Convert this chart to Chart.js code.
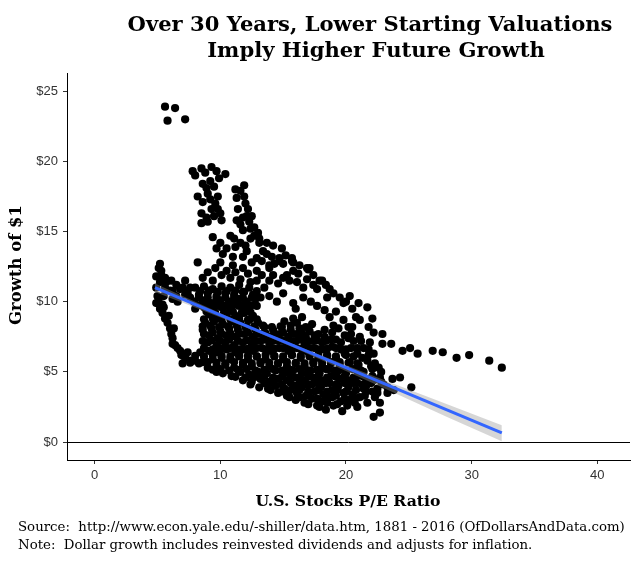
<!DOCTYPE html>
<html lang="en">
<head>
<meta charset="UTF-8">
<title>Over 30 Years, Lower Starting Valuations Imply Higher Future Growth</title>
<script src="https://cdn.jsdelivr.net/npm/chart.js"></script>
<style>
  body { margin: 0; background: #fff; }
  canvas { display: block; }
</style>
</head>
<body>
<canvas id="myChart" width="644" height="567"></canvas>
<script>
// [P/E ratio, growth of $1 over the next 30 years]
const outliers = [[5.6,23.9],[6.4,23.8],[5.8,22.9],[7.2,23.0]];

const upperArm = [
  [7.8,19.3],[8.5,19.5],[9.3,19.6],[10.4,19.1],[9.2,18.6],[8.9,18.1],[9.5,18.2],[8.2,17.5],[9.0,17.7],
  [9.8,17.5],[9.6,17.0],[9.3,16.6],[9.8,16.6],[8.5,16.3],[8.9,16.0],[8.5,15.6],[10.0,16.3],[10.1,15.8],
  [11.2,18.0],[11.6,17.9],[11.3,17.4],[12.0,17.0],[11.4,16.6],[12.1,16.1],[11.8,16.0],[11.3,15.8],
  [12.3,15.7],[12.4,15.2],[11.8,15.1],[13.0,14.9],[10.8,14.7],[11.1,14.5],[12.4,14.5],[11.6,14.2],
  [13.1,14.2],[14.2,14.0],[14.9,13.8],[9.7,13.8],[10.5,13.8],[12.1,13.6],[12.9,13.1],[13.7,13.4],
  [14.7,13.1],[15.7,13.1],[8.2,12.8],[10.0,12.8],[11.0,12.6],[11.8,12.4],[12.9,12.2],[13.9,12.6],
  [15.0,12.7],[15.8,12.8],[16.9,12.4],[17.4,11.9],[14.2,11.9],[15.3,11.9],[8.6,11.7],[9.4,11.5],
  [10.8,11.7],[11.6,11.6],[12.4,11.4],[12.5,16.1],[12.7,15.3],[13.1,14.5],[13.7,14.2],[13.4,13.6],
  [14.7,12.9],[15.7,12.9],[17.0,12.3],[15.8,12.2],[13.9,12.4],[17.9,11.5],[18.7,10.9],[17.7,10.9],
  [16.6,11.0],[15.5,11.5],[15.0,11.7],[13.9,11.5],[12.9,11.5],[19.5,10.3],[20.3,10.4],[21.7,9.6],
  [18.5,10.3],[16.6,10.3],[15.0,10.6],[13.9,10.4],[15.8,9.9],[17.7,9.7],[17.1,12.4],[18.1,11.5],
  [8.0,19.0],[8.8,19.2],[9.7,19.3],[9.9,18.8],[8.6,18.4],[8.6,17.1],[9.2,17.3],[9.0,15.7],[9.5,16.1],
  [11.9,17.5],[12.2,16.6],[11.6,15.5],[12.7,14.7],[12.0,14.0],[11.2,13.9],[10.2,13.4],[11.0,13.2],
  [11.8,13.2],[12.5,12.8],[13.3,12.9],[14.1,13.2],[14.3,12.7],[15.2,13.3],[16.3,12.6],[16.2,12.0],
  [16.9,11.6],[14.6,11.3],[13.3,11.9],[12.2,12.0],[10.5,12.2],[9.6,12.4],[9.0,12.1],[10.1,11.9],
  [11.2,12.1],[18.4,11.2],[19.0,10.6],[20.0,10.0],[21.0,9.9],[17.4,11.2],[16.1,11.4],[9.4,14.6],
  [10.0,14.2],[11.9,18.3]
];

const leftLobe = [
  [4.9,11.8],[5.2,12.7],[5.3,12.2],[5.1,12.4],[4.9,11.0],[5.2,11.4],[5.6,11.0],[5.5,10.4],[6.0,10.8],
  [6.5,11.2],[7.0,11.0],[7.4,10.6],[6.2,10.2],[5.4,9.8],[5.6,11.7],[6.1,11.5],[7.2,11.5],[6.6,10.0],
  [4.9,9.9],[5.5,9.6],[5.0,10.4],[5.4,9.2],[5.9,9.0],[5.8,8.5],[6.3,8.1],[6.1,7.7],[6.2,7.0],
  [6.6,6.7],[6.9,6.2],[7.4,6.4],[7.0,5.6],[6.5,10.4],[7.2,10.5],[6.8,10.9],[7.6,11.0],
  [5.1,10.2],[5.2,9.5],[5.6,8.8],[6.0,8.1],[6.2,7.4],[6.4,6.9],[6.8,6.5],[7.2,6.0],[7.6,5.8],
  [5.7,11.4],[5.3,11.9],[6.2,10.75],[7.3,10.75],[7.6,10.3]
];

const mainBody = [
  [8.0,9.5],[8.7,9.6],[9.4,9.4],[10.1,9.6],[10.8,9.5],[11.5,9.7],[12.2,9.5],[12.9,9.7],[16.0,9.5],
  [7.9,10.0],[8.6,10.1],[9.3,9.9],[10.0,10.1],[10.7,10.0],[11.4,10.2],[12.1,10.0],[12.8,10.2],[14.5,10.0],[17.2,10.0],
  [8.3,10.5],[9.0,10.6],[9.7,10.4],[10.4,10.6],[11.1,10.5],[11.8,10.7],[12.6,10.5],
  [8.0,11.0],[8.7,11.1],[9.4,10.9],[10.1,11.1],[10.8,11.0],[11.5,11.2],[12.3,11.0],[13.5,11.0],
  [8.6,8.0],[9.3,8.1],[10.0,7.9],[10.7,8.1],[11.4,8.0],[12.1,8.2],[12.8,8.0],[13.5,8.2],[14.2,8.0],
  [14.9,8.2],[15.6,8.0],[16.3,8.1],[17.1,7.9],[18.3,8.0],[19.4,8.1],
  [8.8,8.5],[9.5,8.6],[10.2,8.4],[10.9,8.6],[11.6,8.5],[12.3,8.7],[13.0,8.5],
  [15.1,8.6],[16.1,8.5],[17.3,8.4],
  [9.1,9.1],[9.8,8.9],[10.5,9.1],[11.2,9.0],[11.9,9.2],[12.6,9.0],[16.5,8.9],
  [9.1,7.6],[9.8,7.4],[10.5,7.6],[11.2,7.5],[11.9,7.7],[12.6,7.5],[13.3,7.7],[14.0,7.5],
  [14.7,7.7],[15.4,7.5],[16.1,7.7],[16.8,7.5],[17.5,7.6],[18.3,7.5],
  [9.0,7.1],[9.7,6.9],[10.4,7.1],[11.1,6.9],[11.8,7.1],[12.5,7.0],[13.2,7.2],[13.9,7.0],
  [14.6,7.2],[15.3,7.0],[16.0,7.2],[16.7,7.0],[17.4,7.2],[18.1,7.1],[18.8,7.3],[19.6,7.1],[20.6,7.2],
  [8.4,6.4],[9.1,6.5],[9.8,6.4],[10.5,6.6],[11.2,6.4],[11.9,6.6],[12.6,6.5],[13.3,6.7],[14.0,6.5],
  [14.7,6.7],[15.4,6.5],[16.1,6.7],[16.8,6.5],[17.5,6.7],[18.2,6.6],[18.9,6.8],[19.6,6.6],[20.4,6.7],
  [8.0,5.8],[8.6,5.7],[9.4,5.9],[10.1,6.0],[10.8,5.9],[11.5,6.1],[12.2,5.9],[12.9,6.1],[13.6,5.9],
  [14.3,6.1],[15.0,5.9],[15.7,6.2],[16.4,6.0],[17.1,6.2],[17.8,6.0],[18.5,6.2],[19.2,6.0],[19.9,6.3],[20.6,6.1],
  [9.0,5.3],[9.7,5.4],[10.4,5.5],[11.1,5.3],[11.8,5.5],[12.5,5.4],[13.2,5.6],[13.9,5.4],[14.6,5.6],
  [15.3,5.4],[16.0,5.6],[16.7,5.4],[17.4,5.6],[18.1,5.4],[18.8,5.7],[19.5,5.5],[20.3,5.7],[21.0,5.5],
  [9.7,5.0],[10.2,4.9],[10.9,4.7],[11.6,5.0],[12.3,4.8],[13.0,5.0],[13.7,4.9],[14.4,5.1],[15.1,4.9],
  [15.8,5.1],[16.5,4.9],[17.2,5.1],[17.9,4.9],[18.6,5.2],[19.3,5.0],[20.0,4.9],[20.7,5.2],[21.4,5.0],
  [22.1,5.2],[22.8,5.0],
  [11.8,4.4],[12.5,4.3],[13.2,4.5],[13.9,4.3],[14.6,4.5],[15.3,4.4],[16.0,4.6],[16.7,4.4],[17.4,4.6],
  [18.1,4.4],[18.8,4.7],[19.5,4.5],[20.2,4.4],[20.9,4.7],[21.6,4.5],
  [13.1,3.9],[13.8,3.8],[14.4,4.0],[15.1,3.8],[15.9,4.0],[16.5,3.9],[17.3,4.1],[18.0,3.9],[18.7,4.2],
  [19.4,4.0],[20.2,3.9],[20.9,4.2],[21.6,4.0],[23.0,4.1],
  [14.6,3.5],[15.3,3.3],[16.1,3.5],[16.8,3.3],[17.5,3.6],[18.2,3.4],[18.9,3.7],[20.5,3.4],[22.1,3.6],[23.8,3.7],
  [16.0,3.0],[16.7,2.8],[17.3,3.1],[18.1,2.9],[18.9,3.2],[19.6,2.9],[21.1,3.2],
  [18.4,2.3],[19.7,2.2],[20.9,2.5]
];

// second pass over the dense part, between the rows above
const mainBodyFill = [
  [17.0,2.7],[17.7,2.6],[18.5,2.8],[19.3,2.7],[20.1,2.6],[20.7,2.8],
  [15.5,3.2],[16.3,3.2],[17.0,3.3],[17.7,3.1],[18.5,3.2],[19.2,3.3],[19.9,3.1],[20.6,3.2],[21.5,3.3],[22.3,3.2],
  [14.0,3.7],[14.9,3.6],[15.6,3.7],[16.3,3.7],[17.0,3.6],[17.8,3.7],[18.5,3.6],[19.3,3.7],[20.0,3.6],
  [20.8,3.7],[21.6,3.6],[22.5,3.8],[23.3,3.9],
  [12.4,4.1],[13.5,4.2],[14.2,4.2],[14.9,4.1],[15.6,4.2],[16.3,4.2],[17.0,4.1],[17.7,4.2],[18.4,4.2],
  [19.2,4.1],[19.9,4.2],[20.6,4.2],[21.3,4.1],[22.0,4.2],[22.8,4.3],
  [11.2,4.65],[12.0,4.6],[12.8,4.65],[13.5,4.7],[14.2,4.6],[14.9,4.65],[15.6,4.7],[16.3,4.6],[17.0,4.65],
  [17.8,4.7],[18.5,4.6],[19.2,4.65],[19.9,4.7],[20.6,4.6],[21.3,4.7],[22.1,4.7],
  [9.4,5.15],[10.0,5.2],[10.7,5.1],[11.4,5.15],[12.1,5.2],[12.8,5.1],[13.5,5.15],[14.2,5.2],[14.9,5.1],
  [15.6,5.15],[16.3,5.2],[17.0,5.1],[17.7,5.15],[18.4,5.2],[19.1,5.1],[19.8,5.15],[20.5,5.2],[21.2,5.1],
  [22.0,5.4],[22.6,5.3],
  [7.6,5.65],[8.3,5.6],[9.0,5.7],[9.7,5.65],[10.4,5.6],[11.1,5.7],[11.8,5.65],[12.5,5.6],[13.2,5.7],
  [13.9,5.65],[14.6,5.6],[15.3,5.7],[16.0,5.65],[16.7,5.6],[17.4,5.7],[18.1,5.65],[18.8,5.6],[19.5,5.7],
  [20.2,5.65],[20.9,5.6],
  [8.0,6.15],[8.7,6.1],[9.4,6.2],[10.1,6.15],[10.8,6.1],[11.5,6.2],[12.2,6.15],[12.9,6.1],[13.6,6.2],
  [14.3,6.15],[15.0,6.1],[15.7,6.2],[16.4,6.15],[17.1,6.1],[17.8,6.2],[18.5,6.15],[19.2,6.1],[20.0,6.2],
  [20.9,6.3],[21.8,6.2],
  [8.7,6.7],[9.4,6.6],[10.1,6.65],[10.8,6.7],[11.5,6.6],[12.2,6.65],[12.9,6.7],[13.6,6.6],
  [14.3,6.65],[15.0,6.7],[15.7,6.6],[16.4,6.65],[17.1,6.7],[17.8,6.6],[18.5,6.65],[19.2,6.7],[20.0,6.6],
  [20.9,6.7],[21.8,6.6],
  [8.6,7.2],[9.3,7.25],[10.0,7.2],[10.7,7.3],[11.4,7.2],[12.1,7.25],[12.8,7.2],[13.5,7.3],[14.2,7.2],
  [14.9,7.25],[15.6,7.2],[16.3,7.3],[17.0,7.2],[17.7,7.25],[18.4,7.2],[19.2,7.3],[20.2,7.4],[21.2,7.2],
  [8.7,7.7],[9.4,7.8],[10.1,7.7],[10.8,7.75],[11.5,7.7],[12.2,7.8],[12.9,7.7],[13.6,7.75],[14.3,7.7],
  [15.0,7.8],[15.8,7.7],[16.5,7.75],[17.8,7.7],[18.9,7.8],[20.4,7.7],
  [8.6,8.25],[9.2,8.3],[9.9,8.2],[10.6,8.25],[11.3,8.3],[12.0,8.2],[12.7,8.25],[13.4,8.3],[14.1,8.2],
  [14.8,8.25],[15.6,8.3],[16.8,8.2],[19.0,8.3],[20.2,8.2],
  [8.7,8.75],[9.4,8.8],[10.1,8.7],[10.8,8.75],[11.5,8.8],[12.2,8.7],[12.9,8.75],
  [15.8,8.8],[20.8,8.9],
  [8.9,9.3],[9.6,9.2],[10.3,9.25],[11.0,9.3],[11.7,9.2],[12.4,9.25],[19.2,9.3],
  [8.3,9.75],[9.0,9.8],[9.7,9.7],[10.4,9.75],[11.1,9.8],[11.8,9.7],[12.5,9.75],
  [8.3,10.3],[9.0,10.3],[9.7,10.25],[10.4,10.3],[11.1,10.3],[11.8,10.25],[12.5,10.3],[13.2,10.3],
  [8.4,10.75],[9.1,10.8],[9.8,10.7],[10.5,10.75],[11.2,10.8],[11.9,10.7],[12.9,10.75]
];

const rightSide = [
  [19.8,9.9],[20.5,9.5],[18.3,9.4],[18.7,8.9],[19.8,8.7],[21.1,8.7],[22.1,8.8],[21.8,8.2],[20.5,8.2],
  [22.2,7.8],[22.9,7.7],[19.9,7.6],[21.1,7.5],[21.9,7.1],[22.9,7.0],[23.6,7.0],[21.4,6.7],[22.2,6.3],
  [21.3,6.0],[22.3,5.6],[21.7,5.8],[22.7,4.6],[23.7,4.5],[24.3,4.6],[25.2,3.9],[22.5,3.5],[23.3,3.5],
  [21.7,2.8],[22.7,2.8],[22.7,2.1],[22.2,1.8],[20.3,3.0],[19.0,2.6],[17.9,2.5],[19.8,3.5],[21.4,3.8],
  [22.2,4.4],[24.5,6.5]
];

const highPeTail = [[25.1,6.7],[25.7,6.3],[26.9,6.5],[27.7,6.4],[28.8,6.0],[29.8,6.2],[31.4,5.8],[32.4,5.3]];

// linear fit and its confidence band
const fitX = [4.8, 32.4];
const fitY = [11.0, 0.65];
const bandX = [4.8, 8, 12, 16, 20, 24, 28, 32.4];
const bandHi = [11.3, 9.99, 8.38, 6.9, 5.47, 4.08, 2.71, 1.2];
const bandLo = [10.7, 9.59, 8.18, 6.66, 5.07, 3.44, 1.81, 0.05];

const xTicks = [0, 10, 20, 30, 40];
const yTicks = [0, 5, 10, 15, 20, 25];

const titleLines = ['Over 30 Years, Lower Starting Valuations', 'Imply Higher Future Growth'];
const xTitle = 'U.S. Stocks P/E Ratio';
const yTitle = 'Growth of $1';
const notes = [
  'Source:  http://www.econ.yale.edu/-shiller/data.htm, 1881 - 2016 (OfDollarsAndData.com)',
  'Note:  Dollar growth includes reinvested dividends and adjusts for inflation.'
];

const allPoints = [].concat(outliers, upperArm, leftLobe, mainBody, mainBodyFill, rightSide, highPeTail)
  .map(p => ({ x: p[0], y: p[1] }));

const serif = '"DejaVu Serif", "Liberation Serif", serif';

// size a font so the text takes up a given width
function fitFont(c, text, width, weight) {
  c.font = weight + ' 20px ' + serif;
  const size = 20 * width / c.measureText(text).width;
  c.font = weight + ' ' + size.toFixed(2) + 'px ' + serif;
  return size;
}

const zeroLine = {
  id: 'zeroLine',
  beforeDatasetsDraw(chart) {
    const c = chart.ctx, a = chart.chartArea;
    const y = Math.round(chart.scales.y.getPixelForValue(0)) + 0.5;
    c.save();
    c.strokeStyle = '#000';
    c.lineWidth = 1;
    c.beginPath();
    c.moveTo(a.left, y);
    c.lineTo(a.right, y);
    c.stroke();
    c.restore();
  }
};

const texts = {
  id: 'texts',
  afterDraw(chart) {
    const c = chart.ctx;
    c.save();
    c.fillStyle = '#000';
    c.textBaseline = 'alphabetic';
    c.textAlign = 'center';
    const ts = fitFont(c, titleLines[0], 485, 'bold');
    c.fillText(titleLines[0], 370, 31);
    c.font = 'bold ' + ts.toFixed(2) + 'px ' + serif;
    c.fillText(titleLines[1], 376, 57);

    fitFont(c, xTitle, 185, 'bold');
    c.fillText(xTitle, 348, 506);

    fitFont(c, yTitle, 120, 'bold');
    c.translate(17, 265);
    c.rotate(-Math.PI / 2);
    c.textBaseline = 'middle';
    c.fillText(yTitle, 0, 0);
    c.setTransform(1, 0, 0, 1, 0, 0);

    c.textAlign = 'left';
    c.textBaseline = 'alphabetic';
    const ns = fitFont(c, notes[0], 607, 'normal');
    c.fillText(notes[0], 18, 531);
    c.font = 'normal ' + ns.toFixed(2) + 'px ' + serif;
    c.fillText(notes[1], 18, 549);
    c.restore();
  }
};

const tickFont = { family: '"Liberation Sans", Arial, sans-serif', size: 13 };

new Chart(document.getElementById('myChart').getContext('2d'), {
  type: 'scatter',
  data: {
    datasets: [
      {
        type: 'line',
        label: 'fit',
        data: fitX.map((x, i) => ({ x: x, y: fitY[i] })),
        borderColor: '#3366FF',
        borderWidth: 3,
        pointRadius: 0,
        fill: false,
        order: 0
      },
      {
        type: 'line',
        label: 'upper',
        data: bandX.map((x, i) => ({ x: x, y: bandHi[i] })),
        borderWidth: 0,
        borderColor: 'rgba(0,0,0,0)',
        pointRadius: 0,
        fill: false,
        order: 1
      },
      {
        type: 'line',
        label: 'lower',
        data: bandX.map((x, i) => ({ x: x, y: bandLo[i] })),
        borderWidth: 0,
        borderColor: 'rgba(0,0,0,0)',
        backgroundColor: 'rgba(153,153,153,0.4)',
        pointRadius: 0,
        fill: '-1',
        order: 1
      },
      {
        label: 'months',
        data: allPoints,
        backgroundColor: '#000',
        borderWidth: 0,
        pointRadius: 4.1,
        order: 2
      }
    ]
  },
  options: {
    responsive: false,
    animation: false,
    layout: { padding: { left: 27, right: 14, top: 73, bottom: 77 } },
    scales: {
      x: {
        type: 'linear',
        min: -2.2,
        max: 42.6,
        afterBuildTicks: s => { s.ticks = xTicks.map(v => ({ value: v })); },
        afterFit: s => { s.height = 30; },
        ticks: { font: tickFont, color: '#333', padding: 4, maxRotation: 0 },
        grid: { display: true, drawOnChartArea: false, drawTicks: true, tickLength: 4, color: '#333' },
        border: { display: true, color: '#000', width: 1 }
      },
      y: {
        min: -1.28,
        max: 26.3,
        afterBuildTicks: s => { s.ticks = yTicks.map(v => ({ value: v })); },
        afterFit: s => { s.width = 40; },
        ticks: { font: tickFont, color: '#333', padding: 5, callback: v => '$' + v },
        grid: { display: true, drawOnChartArea: false, drawTicks: true, tickLength: 4, color: '#333' },
        border: { display: true, color: '#000', width: 1 }
      }
    },
    plugins: {
      legend: { display: false },
      tooltip: { enabled: false }
    }
  },
  plugins: [zeroLine, texts]
});
</script>
</body>
</html>
